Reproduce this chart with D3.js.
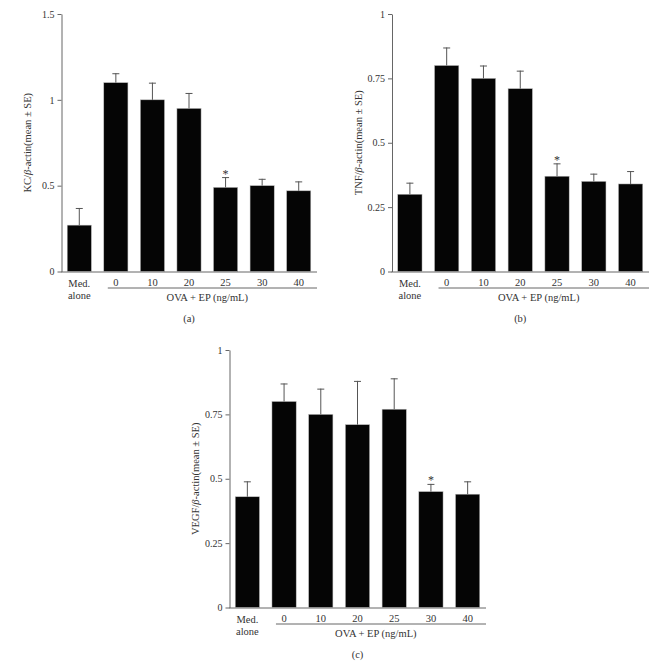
<!DOCTYPE html>
<html>
<head>
  <meta charset="utf-8" />
  <title>KC, TNF and VEGF / beta-actin</title>
  <script src="https://cdn.jsdelivr.net/npm/d3@7/dist/d3.min.js"></script>
  <style>
    body { margin: 0; background: #fff; }
    svg { display: block; }
    text { font-family: "Liberation Serif", "DejaVu Serif", serif; fill: #333; }
  </style>
</head>
<body>
<svg id="chart" width="666" height="665"></svg>
<script>
  // groups along the x axis
  var groups = ["Med. alone", "0", "10", "20", "25", "30", "40"];

  // (a) KC
  var kcMean = [0.27, 1.10, 1.00, 0.95, 0.49, 0.50, 0.47];
  var kcSE   = [0.10, 0.055, 0.10, 0.09, 0.06, 0.04, 0.055];
  var kcTicks = [0, 0.5, 1, 1.5];

  // (b) TNF
  var tnfMean = [0.30, 0.80, 0.75, 0.71, 0.37, 0.35, 0.34];
  var tnfSE   = [0.045, 0.07, 0.05, 0.07, 0.05, 0.03, 0.05];
  var tnfTicks = [0, 0.25, 0.5, 0.75, 1];

  // (c) VEGF
  var vegfMean = [0.43, 0.80, 0.75, 0.71, 0.77, 0.45, 0.44];
  var vegfSE   = [0.06, 0.07, 0.10, 0.17, 0.12, 0.03, 0.05];
  var vegfTicks = [0, 0.25, 0.5, 0.75, 1];

  var svg = d3.select("#chart");

  function drawPanel(opt) {
    var g = svg.append("g");
    var rows = groups.map(function (k, i) { return { key: k, mean: opt.mean[i], se: opt.se[i] }; });

    var x = d3.scaleBand()
      .domain(groups)
      .range([opt.x0, opt.x1])
      .paddingInner(0.34)
      .paddingOuter(0.17);

    var y = d3.scaleLinear()
      .domain([0, opt.max])
      .range([opt.yBot, opt.yTop]);

    // y axis
    var yAxis = d3.axisLeft(y)
      .tickValues(opt.ticks)
      .tickSize(4)
      .tickSizeOuter(0)
      .tickFormat(function (d) { return String(d); });

    var ya = g.append("g")
      .attr("transform", "translate(" + (opt.x0 + 0.5) + ",0)")
      .call(yAxis);
    ya.select(".domain").attr("stroke", "#666");
    ya.selectAll(".tick line").attr("stroke", "#666");
    ya.selectAll(".tick text")
      .attr("x", -7)
      .style("font-family", "Liberation Serif, serif")
      .style("font-size", "10px")
      .attr("fill", "#333");

    // x axis baseline
    g.append("line")
      .attr("x1", opt.x0)
      .attr("x2", opt.x1)
      .attr("y1", y(0) + 0.5)
      .attr("y2", y(0) + 0.5)
      .attr("stroke", "#666");

    // bars
    g.selectAll("rect.bar")
      .data(rows)
      .enter()
      .append("rect")
      .attr("class", "bar")
      .attr("x", function (d) { return x(d.key); })
      .attr("width", x.bandwidth())
      .attr("y", function (d) { return y(d.mean); })
      .attr("height", function (d) { return y(0) - y(d.mean); })
      .style("fill", "#050505")
      .style("stroke", "#bbb")
      .style("stroke-width", 0.5);

    // error bars (upper half only)
    var eb = g.selectAll("g.err")
      .data(rows)
      .enter()
      .append("g")
      .attr("class", "err");
    eb.append("line")
      .attr("x1", function (d) { return x(d.key) + x.bandwidth() / 2; })
      .attr("x2", function (d) { return x(d.key) + x.bandwidth() / 2; })
      .attr("y1", function (d) { return y(d.mean); })
      .attr("y2", function (d) { return y(d.mean + d.se); })
      .attr("stroke", "#555");
    eb.append("line")
      .attr("x1", function (d) { return x(d.key) + x.bandwidth() / 2 - 3.5; })
      .attr("x2", function (d) { return x(d.key) + x.bandwidth() / 2 + 3.5; })
      .attr("y1", function (d) { return y(d.mean + d.se) + 0.5; })
      .attr("y2", function (d) { return y(d.mean + d.se) + 0.5; })
      .attr("stroke", "#555");

    // significance star
    var s = rows[groups.indexOf(opt.star)];
    g.append("text")
      .attr("x", x(s.key) + x.bandwidth() / 2)
      .attr("y", y(s.mean + s.se) + 0.5)
      .attr("text-anchor", "middle")
      .style("font-size", "12px")
      .text("*");

    // x category labels
    var base = y(0);
    g.selectAll("text.cat")
      .data(groups.slice(1))
      .enter()
      .append("text")
      .attr("class", "cat")
      .attr("x", function (d) { return x(d) + x.bandwidth() / 2; })
      .attr("y", base + 14)
      .attr("text-anchor", "middle")
      .style("font-size", "10.5px")
      .text(function (d) { return d; });

    var medX = x(groups[0]) + x.bandwidth() / 2;
    g.append("text").attr("x", medX).attr("y", base + 15)
      .attr("text-anchor", "middle").style("font-size", "10.5px").text("Med.");
    g.append("text").attr("x", medX).attr("y", base + 27.5)
      .attr("text-anchor", "middle").style("font-size", "10.5px").text("alone");

    // bracket line under the OVA + EP group
    var lx0 = x(groups[1]) + 4;
    g.append("line")
      .attr("x1", lx0).attr("x2", opt.x1)
      .attr("y1", base + 16.5).attr("y2", base + 16.5)
      .attr("stroke", "#666");
    g.append("text")
      .attr("x", (x(groups[1]) + x(groups[6]) + x.bandwidth()) / 2)
      .attr("y", base + 29)
      .attr("text-anchor", "middle")
      .style("font-size", "10.5px")
      .text("OVA + EP (ng/mL)");

    // panel letter
    g.append("text")
      .attr("x", (opt.x0 + opt.x1) / 2)
      .attr("y", base + 50)
      .attr("text-anchor", "middle")
      .style("font-size", "10.5px")
      .text(opt.letter);

    // y label
    var yl = g.append("text")
      .attr("transform", "translate(" + (opt.x0 - 30) + "," + ((opt.yTop + opt.yBot) / 2) + ") rotate(-90)")
      .attr("text-anchor", "middle")
      .style("font-size", "10.5px");
    yl.append("tspan").text(opt.name + "/");
    yl.append("tspan").style("font-style", "italic").text("\u03b2");
    yl.append("tspan").text("-actin(mean \u00b1 SE)");
  }

  drawPanel({ mean: kcMean, se: kcSE, ticks: kcTicks, max: 1.5, name: "KC", star: "25", letter: "(a)",
              x0: 61, x1: 317, yTop: 14, yBot: 271.5 });
  drawPanel({ mean: tnfMean, se: tnfSE, ticks: tnfTicks, max: 1, name: "TNF", star: "25", letter: "(b)",
              x0: 391.5, x1: 649, yTop: 14, yBot: 271.5 });
  drawPanel({ mean: vegfMean, se: vegfSE, ticks: vegfTicks, max: 1, name: "VEGF", star: "30", letter: "(c)",
              x0: 229, x1: 486, yTop: 350, yBot: 607.5 });
</script>
</body>
</html>
